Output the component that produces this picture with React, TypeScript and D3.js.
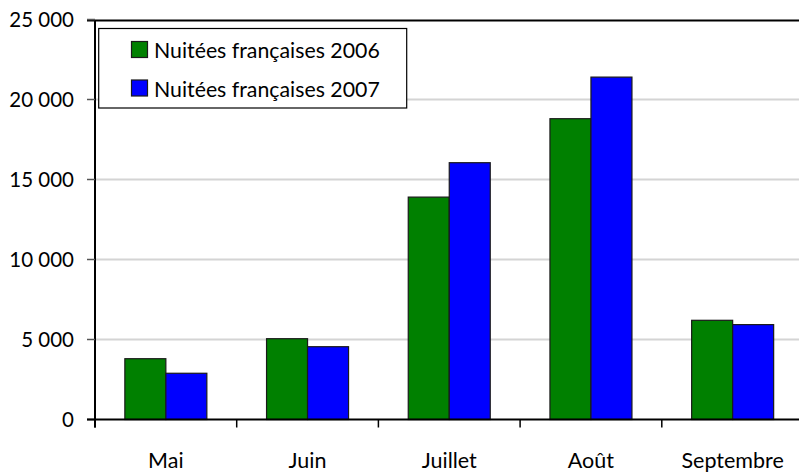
import React from "react";
import * as d3 from "d3";

const months = ["Mai", "Juin", "Juillet", "Août", "Septembre"];
const series = ["Nuitées françaises 2006", "Nuitées françaises 2007"];
const values2006 = [3800, 5050, 13900, 18800, 6200];
const values2007 = [2890, 4550, 16050, 21400, 5930];
const yTicks = [0, 5000, 10000, 15000, 20000, 25000];
const colors = ["#008000", "#0000FF"];

const W = 799;
const H = 472;
const FONT = "Lato, 'Open Sans', sans-serif";

export default function App() {
  const left = 95;
  const right = 803.5;
  const top = 19.5;
  const bottom = 419.5;

  const x0 = d3.scaleBand<string>().domain(months).range([left, right]).padding(0);
  const x1 = d3
    .scaleBand<string>()
    .domain(series)
    .range([0, x0.bandwidth()])
    .paddingInner(0)
    .paddingOuter(0.728);
  const y = d3.scaleLinear().domain([0, 25000]).range([bottom, top]);
  const data = [values2006, values2007];
  const fmt = (v: number) => d3.format(",")(v).replace(/,/g, " ");

  const boundaries = months.map((m) => x0(m) as number).concat([right]);

  return (
    <svg
      width={W}
      height={H}
      style={{ position: "absolute", left: 0, top: 0, background: "#fff" }}
      fontFamily={FONT}
    >
      <rect x={0} y={0} width={W} height={H} fill="#fff" />
      {/* gridlines */}
      {yTicks
        .filter((t) => t > 0 && t < 25000)
        .map((t) => (
          <line key={t} x1={left} x2={W} y1={y(t)} y2={y(t)} stroke="#d4d4d4" strokeWidth={2} />
        ))}
      {/* top border */}
      <line x1={87} x2={W} y1={y(25000) + 1} y2={y(25000) + 1} stroke="#000" strokeWidth={2} />
      {/* bars */}
      {months.map((m, i) => (
        <g key={m} transform={`translate(${x0(m)},0)`}>
          {series.map((s, j) => (
            <rect
              key={s}
              x={x1(s) as number}
              y={y(data[j][i])}
              width={x1.bandwidth()}
              height={bottom - y(data[j][i])}
              fill={colors[j]}
              stroke="#1a1a1a"
              strokeWidth={1.2}
            />
          ))}
        </g>
      ))}
      {/* y axis */}
      <line x1={left} x2={left} y1={top + 1} y2={bottom + 8} stroke="#000" strokeWidth={2} />
      {yTicks.map((t) => (
        <g key={t}>
          <line x1={87} x2={left} y1={y(t)} y2={y(t)} stroke={t === 0 ? "#000" : "#555"} strokeWidth={1.5} />
          <text x={74} y={y(t)} dy="0.36em" textAnchor="end" fontSize={20.5} fill="#000">
            {fmt(t)}
          </text>
        </g>
      ))}
      {/* x axis */}
      <line x1={87} x2={W} y1={bottom} y2={bottom} stroke="#000" strokeWidth={2} />
      {boundaries.map((b, i) => (
        <line key={i} x1={b} x2={b} y1={bottom} y2={bottom + 8} stroke="#000" strokeWidth={1.5} />
      ))}
      {months.map((m) => (
        <text
          key={m}
          x={(x0(m) as number) + x0.bandwidth() / 2}
          y={468}
          textAnchor="middle"
          fontSize={21.5}
          fill="#000"
        >
          {m}
        </text>
      ))}
      {/* legend */}
      <rect x={98.7} y={28.5} width={308} height={79.5} fill="#fff" stroke="#000" strokeWidth={1.2} />
      {series.map((s, j) => (
        <g key={s} transform={`translate(0,${j * 38.5})`}>
          <rect x={131.5} y={41.5} width={16} height={16} fill={colors[j]} stroke="#1a1a1a" strokeWidth={1.2} />
          <text x={154} y={58} fontSize={21.3} fill="#000">
            {s}
          </text>
        </g>
      ))}
    </svg>
  );
}
